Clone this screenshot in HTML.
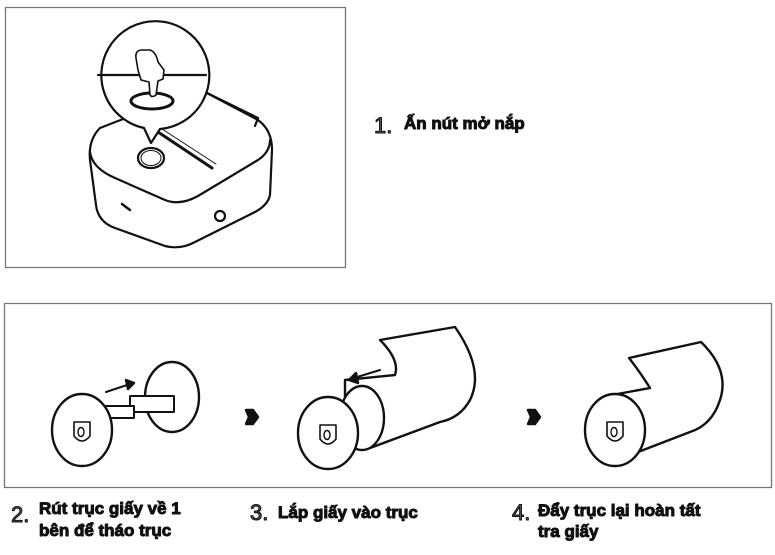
<!DOCTYPE html>
<html><head><meta charset="utf-8"><style>
html,body{margin:0;padding:0;background:#fff;width:775px;height:555px;overflow:hidden}
svg{display:block}
.n{font-family:"Liberation Sans",sans-serif;font-size:22px;fill:#555}
.t{font-family:"Liberation Sans","DejaVu Sans",sans-serif;font-size:17px;font-weight:bold;fill:#111}
</style></head><body>
<svg width="775" height="555" viewBox="0 0 775 555" fill="none" stroke="#111" stroke-linecap="round" stroke-linejoin="round">
<rect x="5.5" y="7.5" width="340" height="260" stroke="#777" stroke-width="1.3"/>
<!-- printer -->
<g stroke-width="2.2">
<path d="M100 128 Q150 108 205 92 L258 120 Q272 130 272 150 L270 195 Q268 205 255 212 L195 242 Q180 250 165 246 L115 228 Q98 222 96 205 L90 160 Q88 140 100 128 Z" fill="#fff"/>
<path d="M90 152 Q92 168 115 178 L165 200 Q180 206 198 196 L258 160 Q270 152 270 140"/>
<path d="M158 132 L212 168" stroke-width="3"/>
<path d="M162 129 L216 164" stroke-width="1"/>
<ellipse cx="151" cy="158" rx="13" ry="10"/><ellipse cx="151" cy="158" rx="10" ry="7.5" stroke-width="1"/>
<path d="M122 204 L130 210" stroke-width="2.5"/>
<circle cx="220" cy="216" r="5"/>
<path d="M205 92 L258 118 L255 126"/>
<!-- bubble -->
<path d="M144 128 A54 54 0 1 1 160 129 L151 143 Z" fill="#fff"/>
<path d="M98 75 L206 75"/>
<ellipse cx="152" cy="101" rx="21" ry="8" stroke-width="3"/>
<path d="M136 58 Q135 50 142 50 L150 50 Q156 52 158 62 L164 70 L163 79 L158 81 L156 95 Q152 98 150 95 L149 82 L141 80 L138 70 Z" fill="#fff" stroke-width="1.6"/>
</g>
<text class="n" x="374" y="133">1.</text>
<text class="t" x="404" y="129">Ấn nút mở nắp</text>

<rect x="4.5" y="303.5" width="767" height="184" stroke="#777" stroke-width="1.3"/>
<g stroke-width="2.4" fill="#fff">
<!-- step2 -->
<ellipse cx="172" cy="397" rx="27" ry="35"/>
<rect x="130" y="396" width="44" height="16" stroke-width="2"/>
<rect x="100" y="406" width="34" height="12" stroke-width="2"/>
<ellipse cx="82" cy="430" rx="30" ry="36"/>
<path d="M74 422 L74 436 Q82 446 90 436 L90 422 Z" stroke-width="1.6"/><ellipse cx="81" cy="432" rx="3" ry="4.5" stroke-width="1.4"/>
<path d="M106 392 L130 384" stroke-width="2" fill="none"/><path d="M126 380 L134 383 L128 389 Z" fill="#111"/>
<path d="M246 410 L253 410 L258 417 L253 424 L246 424 L249 417 Z" fill="#111"/>
<!-- step3 -->
<path d="M380 340 L455 327 Q485 370 470 400 Q460 418 440 422 L370 448 L345 448 L345 380 L395 375 Q400 360 380 340 Z"/>
<ellipse cx="362" cy="418" rx="22" ry="32"/>
<ellipse cx="328" cy="433" rx="30" ry="36"/>
<path d="M320 425 L320 439 Q328 449 336 439 L336 425 Z" stroke-width="1.6"/><ellipse cx="327" cy="435" rx="3" ry="4.5" stroke-width="1.4"/>
<path d="M354 378 L380 370" stroke-width="2" fill="none"/><path d="M356 373 L349 380 L358 383 Z" fill="#111"/>
<path d="M528 410 L535 410 L540 417 L535 424 L528 424 L531 417 Z" fill="#111"/>
<!-- step4 -->
<path d="M629 358 L701 342 Q730 370 720 400 Q712 425 690 432 L612 462 L612 395 L650 388 Q640 372 629 358 Z"/>
<ellipse cx="615" cy="430" rx="30" ry="36"/>
<path d="M607 422 L607 436 Q615 446 623 436 L623 422 Z" stroke-width="1.6"/><ellipse cx="614" cy="432" rx="3" ry="4.5" stroke-width="1.4"/>
</g>
<text class="n" x="11" y="522">2.</text>
<text class="t" x="39" y="514">Rút trục giấy về 1</text>
<text class="t" x="39" y="536">bên để tháo trục</text>
<text class="n" x="250" y="520">3.</text>
<text class="t" x="278" y="518">Lắp giấy vào trục</text>
<text class="n" x="512" y="520">4.</text>
<text class="t" x="538" y="516">Đẩy trục lại hoàn tất</text>
<text class="t" x="538" y="537">tra giấy</text>
</svg>
</body></html>
